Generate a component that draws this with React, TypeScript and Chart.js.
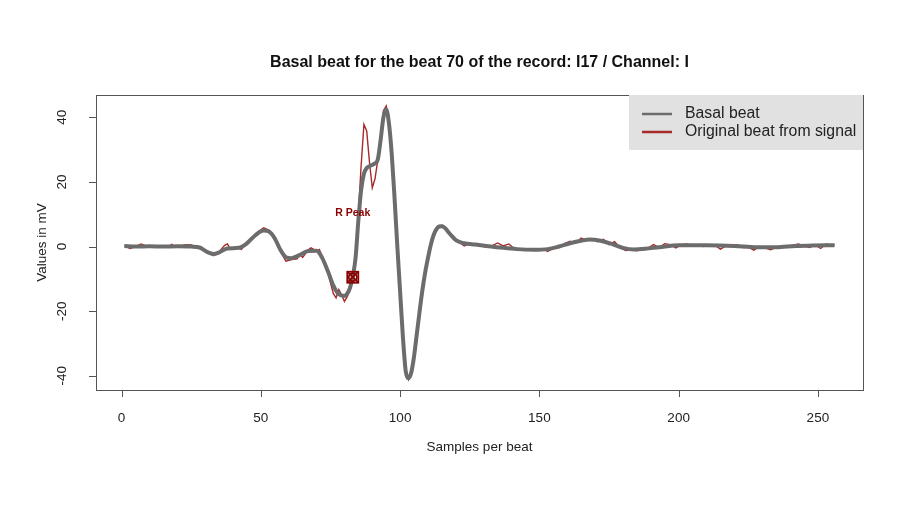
import React, { useEffect, useRef } from "react";
import { Chart, registerables } from "chart.js";

Chart.register(...registerables);

const titleText = "Basal beat for the beat 70 of the record: I17 / Channel: I";
const xAxisTitle = "Samples per beat";
const yAxisTitle = "Values in mV";
const legendLabels = ["Basal beat", "Original beat from signal"];
const xTicks = [0, 50, 100, 150, 200, 250];
const yTicks = [-40, -20, 0, 20, 40];
const xRange = [-9.2, 266.2];
const yRange = [-44.4, 46.9];

const rPeakX = 83;
const rPeakY = -9.5;
const rPeakLabelY = 10.5;

// Basal beat (smooth) key samples
const basalX = [
  1, 5, 10, 15, 20, 25, 28, 31, 33, 35, 38, 42, 45, 48, 51, 53, 55, 57, 59, 61, 64, 67, 70, 72, 74, 76, 78, 80, 81, 82,
  83, 84, 85, 86, 87, 88, 89, 91, 92, 93, 94, 95, 96, 97, 98, 99, 100, 101, 102, 103, 104, 105, 106, 107, 108, 109,
  110, 111, 112, 113, 114, 115, 116, 118, 120, 123, 127, 131, 136, 142, 148, 153, 157, 161, 165, 168, 172, 176, 180,
  184, 188, 193, 200, 210, 220, 228, 235, 242, 248, 256,
];
const basalY = [
  0.2, 0.0, 0.1, 0.0, 0.1, 0.0, -0.3, -1.8, -2.3, -1.8, -0.6, -0.4, 1.0, 3.5, 5.0, 4.6, 2.5, -1.0, -3.3, -3.6, -2.6,
  -1.4, -1.3, -3.5, -7.5, -12.0, -14.8, -15.3, -14.6, -12.8, -9.2, -3.5, 8.0, 17.5, 22.5, 24.3, 24.9, 25.8, 27.0,
  33.0, 40.0, 42.5, 38.0, 28.5, 15.0, 0.0, -14.0, -28.0, -38.5, -40.8, -39.0, -34.0, -27.0, -20.0, -13.5, -8.0, -3.5,
  0.5, 3.5, 5.3, 6.2, 6.3, 5.8, 3.8, 2.0, 1.0, 0.6, 0.2, -0.3, -0.8, -1.0, -0.8, 0.0, 1.0, 1.8, 2.2, 1.8, 0.8, -0.4,
  -0.9, -0.7, -0.2, 0.4, 0.4, 0.2, -0.2, -0.2, 0.2, 0.3, 0.4,
];

// Original beat from signal (noisy)
const origX = [
  1, 3, 5, 7, 9, 11, 13, 15, 17, 18, 19, 21, 23, 25, 27, 29, 31, 33, 35, 37, 38, 39, 41, 43, 45, 47, 49, 51, 53, 55,
  57, 59, 61, 63, 64, 65, 67, 68, 70, 71, 72, 74, 76, 77, 78, 79, 80, 81, 82, 83, 84, 85, 86, 87, 88, 89, 90, 91, 92,
  93, 94, 95, 96, 97, 98, 99, 100, 101, 102, 103, 104, 105, 107, 109, 111, 113, 115, 117, 119, 121, 123, 125, 127,
  129, 131, 133, 135, 137, 139, 141, 143, 145, 147, 149, 151, 153, 155, 157, 159, 161, 163, 165, 167, 169, 171, 173,
  175, 177, 179, 181, 183, 185, 187, 189, 191, 193, 195, 197, 199, 201, 203, 205, 207, 209, 211, 213, 215, 217, 219,
  221, 223, 225, 227, 229, 231, 233, 235, 237, 239, 241, 243, 245, 247, 249, 251, 253, 255, 256,
];
const origY = [
  0.3, -0.6, 0.0, 0.8, 0.1, 0.0, 0.2, 0.0, 0.1, 0.7, 0.0, 0.2, 0.6, 0.5, -0.2, -0.8, -2.0, -2.8, -1.6, 0.4, 0.8, -0.8,
  -0.2, -0.9, 1.3, 2.8, 4.6, 5.8, 5.0, 2.2, -1.5, -4.5, -4.0, -3.8, -2.5, -3.4, -1.0, -0.4, -1.4, -0.9, -3.0, -8.0,
  -14.5, -15.9, -13.3, -15.0, -17.0, -15.5, -13.3, -9.5, -2.0, 10.0, 25.0, 37.8, 35.8, 26.0, 18.2, 21.0, 27.0, 34.0,
  42.0, 43.5, 38.5, 28.5, 15.0, 0.0, -14.0, -28.0, -38.5, -41.2, -39.0, -34.0, -20.0, -8.0, 0.5, 5.6, 6.6, 5.0, 2.8,
  1.5, 0.2, 1.0, 0.6, 0.3, -0.2, 0.2, 1.1, 0.2, 0.8, -0.6, -0.9, -1.2, -0.7, -1.1, -0.6, -1.5, -0.5, -0.3, 0.9, 1.6,
  1.0, 2.6, 1.9, 2.3, 1.5, 2.2, 0.6, 1.5, -0.4, -1.2, -0.9, -1.3, -0.6, -0.5, 0.6, -0.3, 0.9, 0.6, -0.4, 0.6, 0.8, 0.3,
  0.5, 0.0, 0.6, 0.4, -0.8, 0.2, 0.4, 0.6, -0.3, -0.2, -1.1, 0.0, -0.4, -1.0, -0.3, 0.1, 0.0, 0.4, 0.8, 0.2, -0.3,
  0.5, -0.6, 0.8, 0.4, 0.6,
];

const basalColor = "#6c6c6c";
const origColor = "#a52a2a";
const markerColor = "#8b0000";
const textColor = "#222222";
const fontFamily = "'Liberation Sans', Arial, Helvetica, sans-serif";

const decorPlugin = {
  id: "decor",
  afterDraw(chart: any) {
    const ctx = chart.ctx as CanvasRenderingContext2D;
    const a = chart.chartArea;
    const xs = chart.scales.x;
    const ys = chart.scales.y;
    ctx.save();

    // R peak marker
    const mx = xs.getPixelForValue(rPeakX);
    const my = ys.getPixelForValue(rPeakY);
    ctx.strokeStyle = markerColor;
    ctx.lineWidth = 1.8;
    const s = 5.5;
    ctx.strokeRect(mx - s, my - s, 2 * s, 2 * s);
    ctx.beginPath();
    ctx.moveTo(mx - s, my - s);
    ctx.lineTo(mx + s, my + s);
    ctx.moveTo(mx + s, my - s);
    ctx.lineTo(mx - s, my + s);
    ctx.stroke();
    ctx.beginPath();
    ctx.arc(mx, my, 4, 0, Math.PI * 2);
    ctx.stroke();

    ctx.fillStyle = markerColor;
    ctx.font = `bold 10.5px ${fontFamily}`;
    ctx.textAlign = "center";
    ctx.textBaseline = "middle";
    ctx.fillText("R Peak", xs.getPixelForValue(rPeakX), ys.getPixelForValue(rPeakLabelY));

    // plot box
    ctx.strokeStyle = "#555555";
    ctx.lineWidth = 1;
    ctx.strokeRect(Math.round(a.left) + 0.5, Math.round(a.top) + 0.5, Math.round(a.right - a.left), Math.round(a.bottom - a.top));

    // x ticks
    ctx.fillStyle = textColor;
    ctx.font = `13.5px ${fontFamily}`;
    ctx.textAlign = "center";
    ctx.textBaseline = "middle";
    ctx.beginPath();
    for (const v of xTicks) {
      const px = Math.round(xs.getPixelForValue(v)) + 0.5;
      ctx.moveTo(px, a.bottom);
      ctx.lineTo(px, a.bottom + 7);
    }
    ctx.stroke();
    for (const v of xTicks) {
      ctx.fillText(String(v), xs.getPixelForValue(v), a.bottom + 28);
    }

    // y ticks
    ctx.beginPath();
    for (const v of yTicks) {
      const py = Math.round(ys.getPixelForValue(v)) + 0.5;
      ctx.moveTo(a.left - 7, py);
      ctx.lineTo(a.left, py);
    }
    ctx.stroke();
    for (const v of yTicks) {
      ctx.save();
      ctx.translate(a.left - 34, ys.getPixelForValue(v));
      ctx.rotate(-Math.PI / 2);
      ctx.fillText(String(v), 0, 0);
      ctx.restore();
    }

    // axis titles
    ctx.fillText(xAxisTitle, (a.left + a.right) / 2, a.bottom + 57);
    ctx.save();
    ctx.translate(a.left - 54, (a.top + a.bottom) / 2);
    ctx.rotate(-Math.PI / 2);
    ctx.fillText(yAxisTitle, 0, 0);
    ctx.restore();

    // title
    ctx.font = `bold 16px ${fontFamily}`;
    ctx.fillStyle = "#111111";
    ctx.fillText(titleText, (a.left + a.right) / 2, 63);

    // legend
    const lw = 234;
    const lh = 55;
    const lx = a.right - lw;
    const ly = a.top;
    ctx.fillStyle = "#e1e1e1";
    ctx.fillRect(lx, ly, lw, lh);
    ctx.font = `15.8px ${fontFamily}`;
    ctx.textAlign = "left";
    const rows = [basalColor, origColor];
    rows.forEach((c, i) => {
      const yy = ly + 19 + i * 18;
      ctx.strokeStyle = c;
      ctx.lineWidth = 2.5;
      ctx.beginPath();
      ctx.moveTo(lx + 13, yy);
      ctx.lineTo(lx + 43, yy);
      ctx.stroke();
      ctx.fillStyle = textColor;
      ctx.fillText(legendLabels[i], lx + 56, yy);
    });

    ctx.restore();
  },
};

export default function App() {
  const ref = useRef<HTMLCanvasElement | null>(null);
  useEffect(() => {
    if (!ref.current) return;
    const chart = new Chart(ref.current, {
      type: "line",
      data: {
        datasets: [
          {
            label: legendLabels[1],
            data: origX.map((x, i) => ({ x, y: origY[i] })),
            borderColor: origColor,
            borderWidth: 1.4,
            pointRadius: 0,
            tension: 0,
            order: 2,
          },
          {
            label: legendLabels[0],
            data: basalX.map((x, i) => ({ x, y: basalY[i] })),
            borderColor: basalColor,
            borderWidth: 4,
            pointRadius: 0,
            tension: 0.4,
            cubicInterpolationMode: "monotone",
            order: 1,
          },
        ],
      },
      options: {
        responsive: false,
        animation: false,
        events: [],
        layout: { padding: { left: 96, right: 52, top: 95, bottom: 117 } },
        scales: {
          x: { type: "linear", min: xRange[0], max: xRange[1], display: false },
          y: { type: "linear", min: yRange[0], max: yRange[1], display: false },
        },
        plugins: { legend: { display: false }, tooltip: { enabled: false } },
      },
      plugins: [decorPlugin],
    });
    return () => chart.destroy();
  }, []);
  return (
    <div style={{ position: "fixed", left: 0, top: 0, width: 915, height: 507, background: "#ffffff" }}>
      <canvas ref={ref} width={915} height={507} style={{ display: "block" }} />
    </div>
  );
}
